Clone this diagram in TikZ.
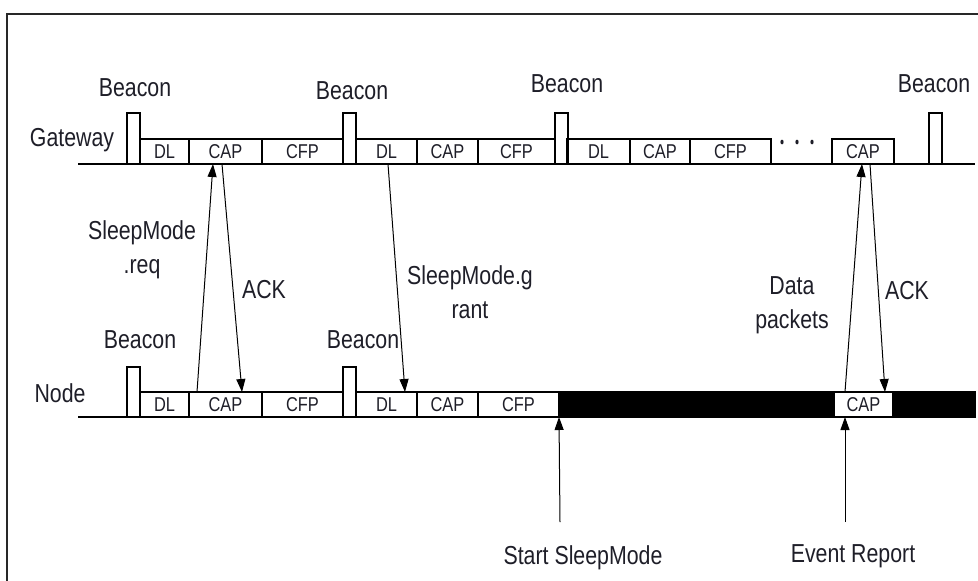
\documentclass[tikz,border=0pt]{standalone}
\usepackage{fontspec}
\setmainfont{Liberation Sans}[FakeStretch=0.82]
\usetikzlibrary{arrows.meta,calc}
\definecolor{TextClr}{RGB}{30,30,40}
\definecolor{FrameClr}{RGB}{40,40,40}

\tikzset{
  slot/.style={draw,rectangle,line width=1.3pt,inner sep=0pt,outer sep=0pt,
    minimum height=25pt,anchor=south west,text=TextClr,
    font=\fontsize{20}{22}\selectfont},
  pulse/.style={draw,rectangle,line width=1.3pt,inner sep=0pt,outer sep=0pt,
    minimum width=13pt,anchor=south west},
  sleepbar/.style={slot,fill=black},
  lbl/.style={text=TextClr,align=center,font=\fontsize{26}{34}\selectfont},
  msg/.style={line width=1pt,-{Triangle[length=13pt,width=9pt]}},
}

\begin{document}
\begin{tikzpicture}[x=1pt,y=-1pt]
\clip (0,0) rectangle (978,581);
\useasboundingbox (0,0) rectangle (978,581);
\draw[FrameClr,line width=2pt] (7,14) rectangle (990,600);

% gateway superframes
\node[pulse,minimum height=51pt] (gb1) at (127,164) {};
\node[slot,minimum width=49pt] (gdl1) at (140,164) {DL};
\node[slot,minimum width=73pt] (gcap1) at (189,164) {CAP};
\node[slot,minimum width=81pt] (gcfp1) at (262,164) {CFP};
\node[pulse,minimum height=51pt] (gb2) at (343,164) {};
\node[slot,minimum width=61pt] (gdl2) at (356,164) {DL};
\node[slot,minimum width=61pt] (gcap2) at (417,164) {CAP};
\node[slot,minimum width=77pt] (gcfp2) at (478,164) {CFP};
\node[pulse,minimum height=51pt] (gb3) at (555,164) {};
\node[slot,minimum width=63pt] (gdl3) at (567,164) {DL};
\node[slot,minimum width=60pt] (gcap3a) at (630,164) {CAP};
\node[slot,minimum width=81pt] (gcfp3) at (690,164) {CFP};
\node[slot,minimum width=62pt] (gcap3) at (832,164) {CAP};
\node[pulse,minimum height=51pt] (gb4) at (929,164) {};
\foreach \x in {782,797,812}
  \fill[TextClr] (\x,142) ellipse (1.6 and 2.4);

\coordinate (gs) at (78,164);
\coordinate (ge) at (975,164);
\draw[line width=1.3pt] (gs) -- (ge);

% node superframes
\node[pulse,minimum height=50pt] (nb1) at (127,417) {};
\node[slot,minimum width=49pt] (ndl1) at (140,417) {DL};
\node[slot,minimum width=73pt] (ncap1) at (189,417) {CAP};
\node[slot,minimum width=81pt] (ncfp1) at (262,417) {CFP};
\node[pulse,minimum height=50pt] (nb2) at (343,417) {};
\node[slot,minimum width=61pt] (ndl2) at (356,417) {DL};
\node[slot,minimum width=61pt] (ncap2) at (417,417) {CAP};
\node[slot,minimum width=81pt] (ncfp2) at (478,417) {CFP};
\node[sleepbar,minimum width=275pt] (nsleep1) at (559,417) {};
\node[slot,minimum width=59pt] (ncap3) at (834,417) {CAP};
\node[sleepbar,minimum width=82pt] (nsleep2) at (893,417) {};

\coordinate (ns) at (78,417);
\coordinate (ne) at (975,417);
\draw[line width=1.3pt] (ns) -- (ne);

% messages
\draw[msg] ($(ncap1.north west)+(8,0)$) -- ($(gcap1.south west)+(24,0)$);
\draw[msg] ($(gcap1.south west)+(33,0)$) -- ($(ncap1.north west)+(53,0)$);
\draw[msg] ($(gdl2.south west)+(32,0)$) -- ($(ndl2.north west)+(49,0)$);
\draw[msg] ($(ncap3.north west)+(11,0)$) -- ($(gcap3.south west)+(30,0)$);
\draw[msg] ($(gcap3.south west)+(38,0)$) -- ($(ncap3.north west)+(51,0)$);

\coordinate (ss) at (560,522);
\coordinate (er) at (845,522);
\draw[msg] (ss) -- (nsleep1.south west);
\draw[msg] (er) -- ($(ncap3.south west)+(11,0)$);

% labels
\node[lbl] (gw) at (72,140) {Gateway};
\node[lbl] (nd) at (60,393) {Node};
\node[lbl] (gbl1) at (135,88) {Beacon};
\node[lbl] (gbl2) at (352,91) {Beacon};
\node[lbl] (gbl3) at (567,84) {Beacon};
\node[lbl] (gbl4) at (934,84) {Beacon};
\node[lbl] (nbl1) at (140,340) {Beacon};
\node[lbl] (nbl2) at (363,340) {Beacon};

\node[lbl] (req) at (142,250) {SleepMode\\.req};
\node[lbl] (ack1) at (264,290) {ACK};
\node[lbl] (grant) at (470,292) {SleepMode.g\\rant};
\node[lbl] (data) at (792,305) {Data\\packets};
\node[lbl] (ack2) at (907,291) {ACK};
\node[lbl] (start) at (583,558) {Start SleepMode};
\node[lbl] (event) at (853,556) {Event Report};

\end{tikzpicture}
\end{document}
